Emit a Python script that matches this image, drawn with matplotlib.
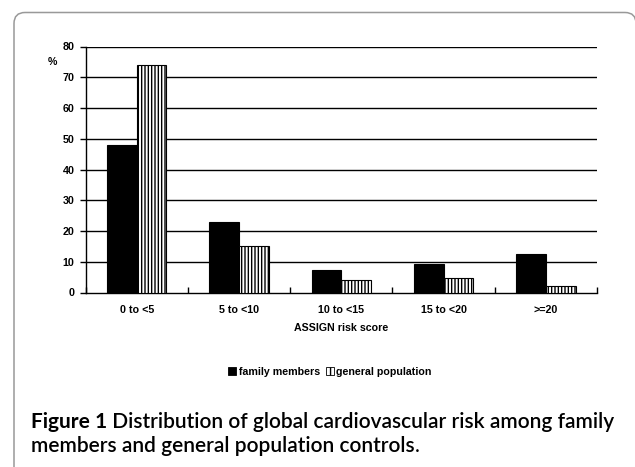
import matplotlib
matplotlib.use("Agg")
import matplotlib.pyplot as plt
from matplotlib.patches import FancyBboxPatch, Patch
import numpy as np

categories = ["0 to <5", "5 to <10", "10 to <15", "15 to <20", ">=20"]
family_members = [48.0, 23.0, 7.3, 9.4, 12.6]
general_population = [74.0, 15.1, 4.2, 4.7, 2.0]
yticks = [0, 10, 20, 30, 40, 50, 60, 70, 80]
series_names = ["family members", "general population"]

W, H = 635, 467
fig = plt.figure(figsize=(W / 100, H / 100), dpi=100)
plt.rcParams['hatch.linewidth'] = 1.0

# frame (inch units -> 1 inch = 100 px)
frame = FancyBboxPatch((0.14, -0.3), 6.22, (H - 12.5) / 100 + 0.3,
                       boxstyle="round,pad=0,rounding_size=0.11",
                       transform=fig.dpi_scale_trans, facecolor="none",
                       edgecolor="#999999", linewidth=1.1, clip_on=False, zorder=-1)
fig.patches.append(frame)

ax_l, ax_r = 85.7 / W, 597 / W
ax_b, ax_t = 1 - 292.5 / H, 1 - 46.5 / H
ax = fig.add_axes([ax_l, ax_b, ax_r - ax_l, ax_t - ax_b])
ax.set_facecolor("none")

tick_font = dict(family="Liberation Sans", weight="bold", size=7.7)

x = np.arange(len(categories))
bw = 0.29
ax.bar(x - bw / 2, family_members, width=bw, color="black", edgecolor="black",
       linewidth=0.8, zorder=3)
ax.bar(x + bw / 2, general_population, width=bw, color="white", edgecolor="black",
       hatch="|||||", linewidth=0.8, zorder=3)

ax.set_xlim(-0.5, len(categories) - 0.5)
ax.set_ylim(0, 80)
ax.set_yticks(yticks)
ax.set_yticklabels([str(v) for v in yticks], fontdict=tick_font)
for yv in yticks[1:]:
    ax.axhline(yv, color="black", linewidth=1.0, zorder=1)

ax.set_xticks(np.arange(len(categories) + 1) - 0.5)
ax.set_xticklabels([])
ax.set_xticks(x, minor=True)
ax.set_xticklabels(categories, minor=True, fontdict=tick_font)
ax.tick_params(axis="x", which="minor", length=0, pad=9)
ax.tick_params(axis="x", which="major", length=4, width=1, direction="in")
ax.tick_params(axis="y", length=4, width=1, direction="out", pad=4)

for s in ["top", "right"]:
    ax.spines[s].set_visible(False)
ax.spines["left"].set_linewidth(1.0)
ax.spines["bottom"].set_linewidth(1.0)

ax.set_xlabel("ASSIGN risk score", fontdict=tick_font, labelpad=6)
fig.text(52 / W, 1 - 62 / H, "%", ha="center", va="center", **tick_font)

handles = [Patch(facecolor="black", edgecolor="black", linewidth=0.6),
           Patch(facecolor="white", edgecolor="black", hatch="|||", linewidth=0.6)]
fig.legend(handles, series_names, loc="center", bbox_to_anchor=(330 / W, 1 - 372 / H),
           ncol=2, frameon=False, prop=dict(family="Liberation Sans", weight="bold", size=7.7),
           handlelength=0.75, handleheight=0.75, handletextpad=0.2, columnspacing=0.6)

cap_size = 15
cap_font = "Lato"
t1 = fig.text(31 / W, 1 - 428 / H, "Figure 1", family=cap_font, weight="bold",
              size=cap_size, va="baseline", ha="left")
t2 = plt.Annotation(" Distribution of global cardiovascular risk among family",
                    xy=(1, 0), xycoords=t1, va="bottom", ha="left",
                    family=cap_font, weight="semibold", size=cap_size)
fig.add_artist(t2)
t3 = fig.text(31 / W, 1 - 452 / H, "members and general population controls",
              family=cap_font, weight="semibold", size=cap_size, va="baseline", ha="left")
t4 = plt.Annotation(".", xy=(1, 0), xycoords=t3, va="bottom", ha="left",
                    family=cap_font, weight="normal", size=cap_size)
fig.add_artist(t4)

fig.savefig("out.png", dpi=100)
